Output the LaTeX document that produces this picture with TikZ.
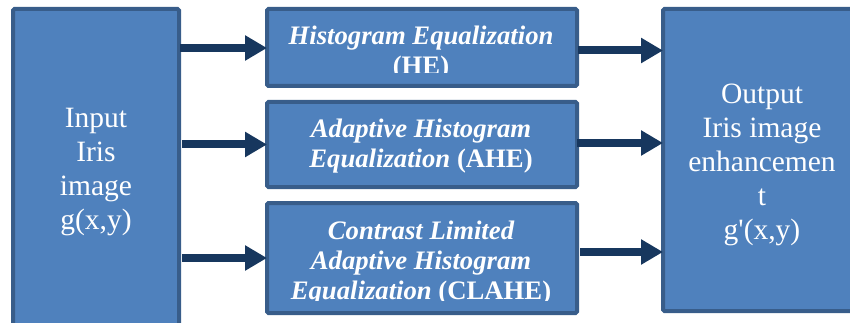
\documentclass[tikz,border=0pt]{standalone}
\usepackage{fontspec}
\setmainfont{Liberation Serif}
\usetikzlibrary{arrows.meta}
\definecolor{boxfill}{HTML}{4F81BD}
\definecolor{boxline}{HTML}{385D8A}
\definecolor{arrowc}{HTML}{17375E}
\tikzset{
 blk/.style={draw=boxline, fill=boxfill, line width=4pt, rounded corners=1.5pt, inner sep=0pt, outer sep=0pt},
 lbl/.style={text=white, align=center, inner sep=0pt},
 big/.style={lbl, font=\fontsize{29.5}{34}\selectfont},
 mid/.style={lbl, font=\fontsize{26.7}{30}\selectfont\bfseries\itshape},
 arr/.style={draw=arrowc, line width=8pt, -{Triangle[length=22pt,width=24pt]}},
}
\begin{document}
\begin{tikzpicture}[x=1pt,y=-1pt]
\useasboundingbox (0,0) rectangle (850,323);
\clip (0,0) rectangle (850,323);
% boxes
\node[blk, minimum width=166pt, minimum height=336pt] (in) at (96,177) {};
\node[blk, minimum width=310pt, minimum height=77pt] (he) at (422,47.5) {};
\node[blk, minimum width=310pt, minimum height=85pt] (ahe) at (422,144.5) {};
\node[blk, minimum width=310pt, minimum height=110pt] (clahe) at (422,258) {};
\node[blk, minimum width=192pt, minimum height=302pt] (out) at (759,160) {};
% texts
\node[big] (intext) at (96,172) {Input\\ Iris\\ image\\ g(x,y)};
\node[big] (outtext) at (762,165) {Output\\ Iris image\\ enhancemen\\ t\\ g\textquotesingle(x,y)};
\begin{scope}
 \clip (269,11) rectangle (575,73);
 \node[mid] (hetext) at (421,53) {Histogram Equalization\\ {\upshape (HE)}};
\end{scope}
\node[mid] (ahetext) at (421,146) {Adaptive Histogram\\ Equalization {\upshape (AHE)}};
\begin{scope}
 \clip (269,205) rectangle (575,300.5);
 \node[mid] (clahetext) at (421,263) {Contrast Limited\\ Adaptive Histogram\\ Equalization {\upshape (CLAHE)}};
\end{scope}
% arrows
\draw[arr] ([xshift=1pt,yshift=-0.5pt]in.east |- he.west) -- ([yshift=-0.5pt]he.west);
\draw[arr] ([xshift=3pt]in.east |- ahe.west) -- (ahe.west);
\draw[arr] ([xshift=3pt]in.east |- clahe.west) -- (clahe.west);
\draw[arr] ([xshift=1pt,yshift=-3pt]he.east) -- ([yshift=-3pt]he.east -| out.west);
\draw[arr] ([yshift=1.5pt]ahe.east) -- ([yshift=1.5pt]ahe.east -| out.west);
\draw[arr] ([xshift=3pt,yshift=6pt]clahe.east) -- ([yshift=6pt]clahe.east -| out.west);
\end{tikzpicture}
\end{document}
